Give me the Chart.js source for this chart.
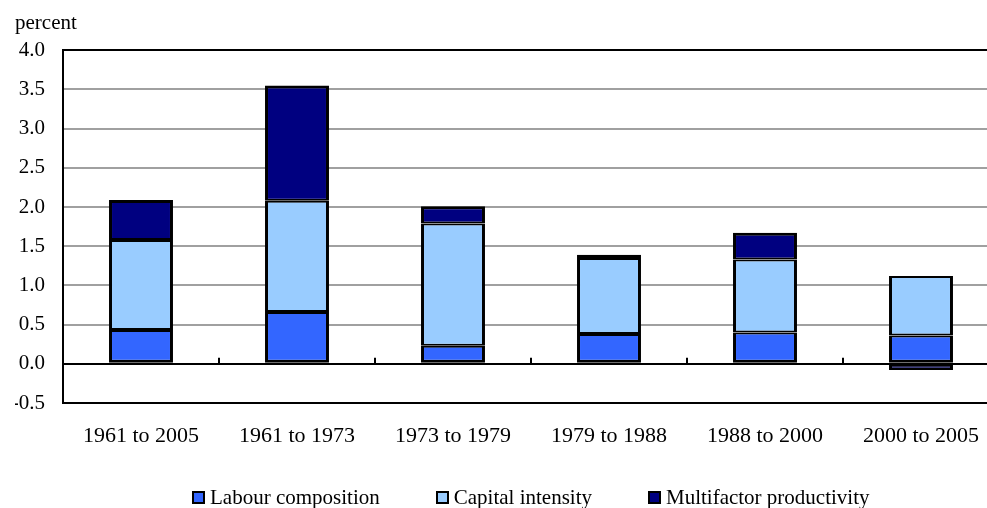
<!DOCTYPE html>
<html>
<head>
<meta charset="utf-8">
<script src="https://cdn.jsdelivr.net/npm/chart.js@4/dist/chart.umd.min.js"></script>
<style>
html,body{margin:0;padding:0;background:#fff;}
#wrap{position:relative;width:987px;height:508px;overflow:hidden;}
#c{position:absolute;left:0;top:0;}
#legend{position:absolute;left:192px;top:485px;display:flex;align-items:center;font-family:"Liberation Serif","Times New Roman",serif;font-size:21px;color:#000;white-space:nowrap;}
.item{display:flex;align-items:center;margin-right:56px;}
.box{width:13px;height:13px;box-sizing:border-box;border:2px solid #000;margin-right:5px;}
</style>
</head>
<body>
<div id="wrap">
<canvas id="c" width="1000" height="508"></canvas>
<div id="legend"></div>
</div>
<script>
const categories = ["1961 to 2005","1961 to 1973","1973 to 1979","1979 to 1988","1988 to 2000","2000 to 2005"];
const labourComposition = [0.43, 0.66, 0.23, 0.38, 0.40, 0.36];
const capitalIntensity = [1.15, 1.42, 1.56, 0.97, 0.93, 0.76];
const multifactorProductivity = [0.51, 1.47, 0.22, 0.04, 0.34, -0.08];
const seriesNames = ["Labour composition","Capital intensity","Multifactor productivity"];
const seriesColors = ["#3366FF","#99CCFF","#000080"];
const yTicks = [-0.5,0.0,0.5,1.0,1.5,2.0,2.5,3.0,3.5,4.0];

const FONT = '"Liberation Serif","Times New Roman",serif';
Chart.defaults.color = '#000';
Chart.defaults.font.family = FONT;

const seriesValues = [labourComposition, capitalIntensity, multifactorProductivity];
const nSeries = seriesNames.length;
function segBorder(ctx){
  const i = ctx.datasetIndex;
  if (ctx.raw < 0) return {left:3,right:3,top:2,bottom:3};
  const top = (i === nSeries-1) ? 3 : 2;
  const bottom = (i === 0) ? 3 : 2;
  return {left:3,right:3,top,bottom};
}
const datasets = seriesNames.map((n,i)=>({
  label:n,
  data:seriesValues[i],
  backgroundColor:seriesColors[i],
  borderColor:'#000',
  borderWidth:segBorder,
  borderSkipped:false,
  stack:'s',
  barPercentage:0.41,
  categoryPercentage:1.0
}));

const zeroTicks = {
  id:'zeroTicks',
  afterDatasetsDraw(chart){
    const xs = chart.scales.x, ys = chart.scales.y;
    const ctx = chart.ctx;
    const y0 = ys.getPixelForValue(0);
    ctx.save();
    ctx.strokeStyle = '#000';
    ctx.lineWidth = 2;
    for(let i=1;i<categories.length;i++){
      const x = Math.round((xs.getPixelForValue(i-1)+xs.getPixelForValue(i))/2);
      ctx.beginPath();
      ctx.moveTo(x, y0);
      ctx.lineTo(x, y0-6);
      ctx.stroke();
    }
    ctx.restore();
  }
};

new Chart(document.getElementById('c'),{
  type:'bar',
  data:{labels:categories, datasets},
  options:{
    responsive:false,
    animation:false,
    layout:{padding:{left:15,right:1,top:0,bottom:0}},
    plugins:{
      legend:{display:false},
      tooltip:{enabled:false},
      title:{display:true,text:'percent',align:'start',color:'#000',
        font:{family:FONT,size:21,weight:'normal'},padding:{top:11,bottom:14}}
    },
    scales:{
      x:{
        stacked:true,
        grid:{display:false,drawTicks:false},
        border:{display:true,color:'#000',width:2},
        ticks:{font:{family:FONT,size:22},color:'#000',padding:20,maxRotation:0,autoSkip:false},
        afterFit(s){s.height=105;}
      },
      y:{
        stacked:true,
        min:-0.5,max:4.0,
        afterBuildTicks(s){s.ticks = yTicks.map(v=>({value:v}));},
        ticks:{font:{family:FONT,size:21},color:'#000',padding:18,callback:v=>Number(v).toFixed(1)},
        grid:{drawTicks:false,lineWidth:2,color:c=>{const v=c.tick&&c.tick.value;return (v===0||v===4||v===-0.5)?'#000':'#A0A0A0';}},
        border:{display:true,color:'#000',width:2},
        afterFit(s){s.width=48;}
      }
    }
  },
  plugins:[zeroTicks]
});

const lg = document.getElementById('legend');
seriesNames.forEach((n,i)=>{
  const it=document.createElement('div');it.className='item';
  const b=document.createElement('span');b.className='box';b.style.background=seriesColors[i];
  const t=document.createElement('span');t.textContent=n;
  it.appendChild(b);it.appendChild(t);lg.appendChild(it);
});
</script>
</body>
</html>
